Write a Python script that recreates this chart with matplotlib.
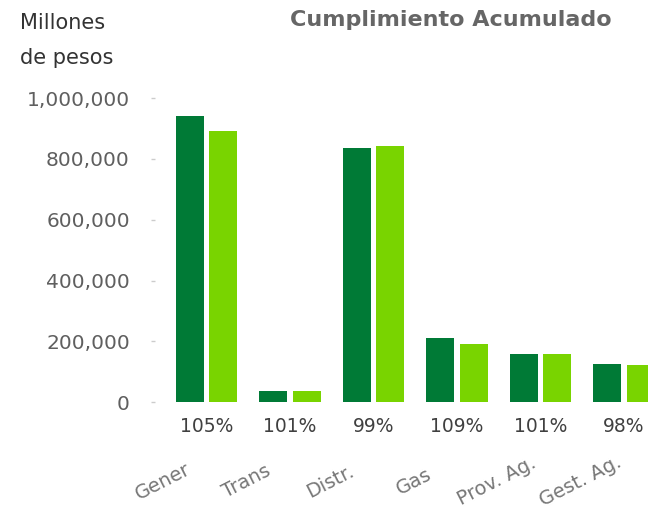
import numpy as np
import matplotlib.pyplot as plt

# Datos (millones de pesos)
categorias = ['Gener', 'Trans', 'Distr.', 'Gas', 'Prov. Ag.', 'Gest. Ag.']
real = [941000, 37000, 837000, 210000, 160000, 124000]
programado = [891000, 37000, 842000, 191000, 160000, 122000]
cumplimiento = ['105%', '101%', '99%', '109%', '101%', '98%']
yticks = [0, 200000, 400000, 600000, 800000, 1000000]

gris = '#5f5f5f'
verde_osc = '#007a36'
verde_cla = '#79d400'

fig = plt.figure(figsize=(6.48, 5.11), dpi=100)
ax = fig.add_axes([0.239, 0.213, 0.761, 0.595])

x = np.arange(len(categorias))
w = 0.335
ax.bar(x - 0.2, real, w, color=verde_osc)
ax.bar(x + 0.2, programado, w, color=verde_cla)

ax.set_xlim(-0.62, 5.29)
ax.set_ylim(0, 1000000)
ax.set_yticks(yticks)
ax.set_yticklabels([f'{v:,}' for v in yticks])
ax.tick_params(axis='y', length=3, width=1, color='#cccccc', pad=15,
               labelsize=14.5, labelcolor=gris)
ax.set_xticks([])
for s in ax.spines.values():
    s.set_visible(False)

# porcentajes de cumplimiento
for i, p in enumerate(cumplimiento):
    ax.text(i, -0.08, p, transform=ax.get_xaxis_transform(), ha='center',
            va='center', fontsize=13.5, color='#404040')

# etiquetas de categorias
for i, c in enumerate(categorias):
    ax.text(i - 0.52, -0.26, c, transform=ax.get_xaxis_transform(), ha='center',
            va='center', rotation=27, fontsize=14, color='#777777')

fig.text(0.031, 0.955, 'Millones', fontsize=15, color='#333333', va='center')
fig.text(0.031, 0.887, 'de pesos', fontsize=15, color='#333333', va='center')
fig.text(0.695, 0.96, 'Cumplimiento Acumulado', fontsize=16, fontweight='bold',
         color='#666666', ha='center', va='center')

fig.savefig('out.png', dpi=100)
